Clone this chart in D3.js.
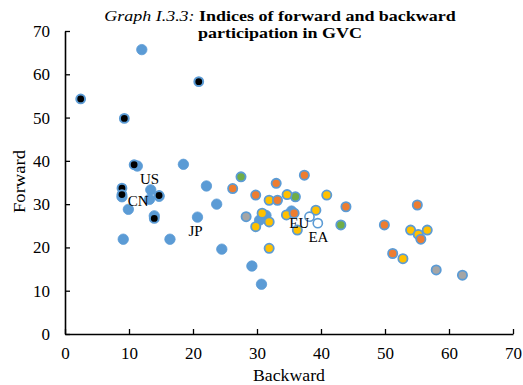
<!DOCTYPE html>
<html><head><meta charset="utf-8">
<script src="https://cdn.jsdelivr.net/npm/d3@7"></script>
<style>
body{margin:0;background:#fff}
svg{display:block}
text{font-family:"Liberation Serif","Times New Roman",serif;fill:#000}
</style>
</head><body><svg id="c" width="523" height="385"></svg>
<script>
const xTicks = [0, 10, 20, 30, 40, 50, 60, 70];
const yTicks = [0, 10, 20, 30, 40, 50, 60, 70];

// [backward, forward]
const bluePts = [[12.0,65.7],[11.3,38.8],[18.5,39.2],[13.4,33.3],[13.2,31.1],[8.9,31.7],[9.9,28.8],
  [13.95,27.3],[20.7,27.0],[9.1,21.9],[16.4,21.9],[22.1,34.2],[23.7,30.0],[24.5,19.6],[29.2,15.7],
  [30.7,11.5],[31.4,27.4],[30.4,26.3],[35.4,28.4],[14.7,31.8]];
const greyPts = [[28.3,27.1],[58.0,14.8],[62.1,13.6]];
const yellowPts = [[31.9,30.9],[34.7,32.2],[40.9,32.1],[30.8,27.9],[29.8,24.8],[31.9,25.9],[31.9,19.8],
  [34.6,27.5],[39.2,28.6],[36.3,24.0],[54.0,24.0],[56.6,24.0],[55.2,23.0],[52.8,17.4]];
const orangePts = [[26.2,33.6],[33.0,34.8],[37.4,36.7],[29.8,32.1],[33.2,30.9],[35.8,27.9],[43.9,29.4],
  [49.9,25.2],[55.05,29.8],[55.6,21.9],[51.2,18.6]];
const greenPts = [[27.5,36.3],[36.0,31.7],[43.1,25.2]];
const blackPts = [[2.45,54.3],[20.9,58.3],[9.27,49.8],[10.8,39.1],[8.9,33.7],[8.9,32.2],[14.7,32.0],[13.95,26.7]];
const openPts = [[38.2,27.1],[39.5,25.6]];
const labels = [["US",13.2,35.8],["CN",11.45,30.8],["JP",20.4,23.8],["EU",36.6,25.8],["EA",39.6,22.5]];

const svg = d3.select("#c");
const x = d3.scaleLinear().domain([0,70]).range([65,513]);
const y = d3.scaleLinear().domain([0,70]).range([334,31]);
const BLUE = "#5B9BD5";

// axes
const gx = svg.append("g").attr("transform","translate(0,334)")
  .call(d3.axisBottom(x).tickValues(xTicks).tickSizeInner(-5).tickSizeOuter(0).tickPadding(13));
const gy = svg.append("g").attr("transform","translate(65,0)")
  .call(d3.axisLeft(y).tickValues(yTicks).tickSizeInner(-5).tickSizeOuter(0).tickPadding(15));
[gx,gy].forEach(g=>{
  g.select(".domain").attr("stroke","#000").attr("stroke-width",1.6);
  g.selectAll(".tick line").attr("stroke","#000").attr("stroke-width",1.3);
  g.selectAll(".tick text").style("font-family","Liberation Serif").style("font-size","17px").attr("fill","#000");
});

const plot = svg.append("g");
function draw(data, fill, stroke, r, sw){
  plot.append("g").selectAll("circle").data(data).join("circle")
    .attr("cx",d=>x(d[0])).attr("cy",d=>y(d[1])).attr("r",r)
    .attr("fill",fill).attr("stroke",stroke).attr("stroke-width",sw);
}
draw(bluePts, BLUE, BLUE, 5.2, 0.8);
draw(greyPts, "#A5A5A5", BLUE, 4.6, 1.8);
draw(greenPts, "#70AD47", BLUE, 4.6, 1.8);
draw(yellowPts, "#FFC000", BLUE, 4.6, 1.8);
draw(orangePts, "#ED7D31", BLUE, 4.6, 1.8);
draw(blackPts, "#000", BLUE, 4.4, 2.0);
draw(openPts, "#fff", BLUE, 4.6, 1.6);

svg.append("g").selectAll("text").data(labels).join("text")
  .attr("x",d=>x(d[1])).attr("y",d=>y(d[2])).attr("text-anchor","middle").attr("dy","0.35em")
  .style("font-size","15px").text(d=>d[0]);

// axis titles
svg.append("text").attr("x",289).attr("y",381).attr("text-anchor","middle")
  .style("font-size","17px").attr("textLength",72).attr("lengthAdjust","spacingAndGlyphs").text("Backward");
svg.append("text").attr("transform","translate(25,181.5) rotate(-90)").attr("text-anchor","middle")
  .style("font-size","17px").attr("textLength",63).attr("lengthAdjust","spacingAndGlyphs").text("Forward");

// title (horizontally stretched like the reference)
const tg = svg.append("g").attr("transform","translate(280,0) scale(1.2,1)");
const t1 = tg.append("text").attr("x",0).attr("y",21).attr("text-anchor","middle").style("font-size","15px");
t1.append("tspan").style("font-style","italic").text("Graph I.3.3: ");
t1.append("tspan").style("font-weight","bold").text("Indices of forward and backward");
tg.append("text").attr("x",0).attr("y",38).attr("text-anchor","middle").style("font-size","15px")
  .style("font-weight","bold").text("participation in GVC");
</script>
</body></html>
